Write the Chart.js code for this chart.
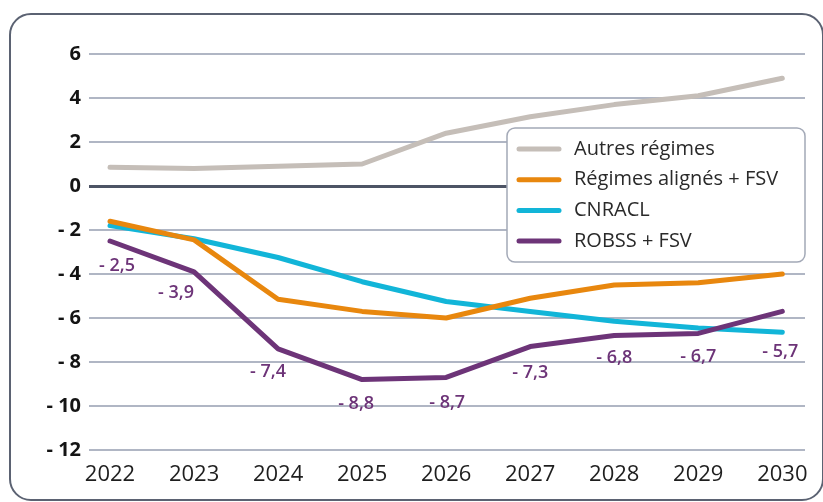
<!DOCTYPE html>
<html>
<head>
<meta charset="utf-8">
<script src="https://cdn.jsdelivr.net/npm/chart.js@4.4.1/dist/chart.umd.min.js"></script>
<style>
  html, body { margin: 0; padding: 0; background: #fff; }
  #wrap { position: relative; width: 823px; height: 502px; overflow: hidden; }
  #frame {
    position: absolute; left: 9px; top: 13px; width: 811px; height: 484px;
    border: 2px solid #5b6272; border-radius: 22px; pointer-events: none;
  }
  canvas { position: absolute; left: 0; top: 0; }
</style>
</head>
<body>
<div id="wrap">
  <canvas id="chart" width="823" height="502"></canvas>
  <div id="frame"></div>
</div>
<script>
  // Years on the x axis
  const years = [2022, 2023, 2024, 2025, 2026, 2027, 2028, 2029, 2030];

  // Series values
  const autresRegimes = [0.85, 0.8, 0.9, 1.0, 2.4, 3.15, 3.7, 4.1, 4.9];
  const regimesAlignes = [-1.6, -2.45, -5.15, -5.7, -6.0, -5.1, -4.5, -4.4, -4.0];
  const cnracl = [-1.8, -2.4, -3.25, -4.35, -5.25, -5.7, -6.15, -6.45, -6.65];
  const robss = [-2.5, -3.9, -7.4, -8.8, -8.7, -7.3, -6.8, -6.7, -5.7];

  const yTicks = [6, 4, 2, 0, -2, -4, -6, -8, -10, -12];

  const COLORS = {
    autres: '#c5beb8',
    alignes: '#e8870e',
    cnracl: '#12b5d8',
    robss: '#6d3478'
  };

  // where each purple value label sits relative to its point (px)
  const labelOffsets = [[7, 25], [-18, 21], [-10, 23], [-6, 24], [1, 25], [0, 26], [0, 22], [0, 23], [-2, 40]];

  const fmt = (v) => (v < 0 ? '- ' + Math.abs(v) : String(v)).replace('.', ',');

  const series = (label, data, color, order) => ({
    label,
    data: years.map((x, i) => ({ x, y: data[i] })),
    borderColor: color,
    backgroundColor: color,
    borderWidth: 5,
    pointRadius: 0,
    tension: 0,
    borderCapStyle: 'round',
    borderJoinStyle: 'round',
    fill: false,
    order
  });

  const datasets = [
    series('Autres régimes', autresRegimes, COLORS.autres, 4),
    series('Régimes alignés + FSV', regimesAlignes, COLORS.alignes, 2),
    series('CNRACL', cnracl, COLORS.cnracl, 3),
    series('ROBSS + FSV', robss, COLORS.robss, 1)
  ];

  const valueLabels = {
    id: 'valueLabels',
    afterDatasetsDraw(chart) {
      const { ctx } = chart;
      const meta = chart.getDatasetMeta(3);
      ctx.save();
      ctx.font = '600 18px "Open Sans"';
      ctx.fillStyle = COLORS.robss;
      ctx.textAlign = 'center';
      ctx.textBaseline = 'middle';
      meta.data.forEach((pt, i) => {
        const [dx, dy] = labelOffsets[i];
        ctx.fillText(fmt(robss[i]), pt.x + dx, pt.y + dy);
      });
      ctx.restore();
    }
  };

  const boxLegend = {
    id: 'boxLegend',
    afterDraw(chart) {
      const { ctx } = chart;
      const x = 507, y = 128, w = 298, h = 134;
      ctx.save();
      ctx.beginPath();
      ctx.roundRect(x, y, w, h, 8);
      ctx.fillStyle = '#fff';
      ctx.fill();
      ctx.lineWidth = 1.5;
      ctx.strokeStyle = '#a3a9b7';
      ctx.stroke();
      ctx.font = '20px "Open Sans"';
      ctx.textBaseline = 'middle';
      ctx.lineCap = 'round';
      datasets.forEach((ds, i) => {
        const cy = y + 21 + i * 30.7;
        ctx.beginPath();
        ctx.moveTo(x + 12, cy);
        ctx.lineTo(x + 52, cy);
        ctx.lineWidth = 5;
        ctx.strokeStyle = ds.borderColor;
        ctx.stroke();
        ctx.fillStyle = '#2a2a2a';
        ctx.fillText(ds.label, x + 67, cy);
      });
      ctx.restore();
    }
  };

  new Chart(document.getElementById('chart'), {
    type: 'line',
    data: { datasets },
    plugins: [valueLabels, boxLegend],
    options: {
      responsive: false,
      animation: false,
      devicePixelRatio: 1,
      layout: { padding: { left: 0, right: 18, top: 54, bottom: 0 } },
      plugins: {
        legend: { display: false },
        tooltip: { enabled: false }
      },
      scales: {
        x: {
          type: 'linear',
          min: 2021.75,
          max: 2030.27,
          afterBuildTicks: (scale) => { scale.ticks = years.map(v => ({ value: v })); },
          afterFit: (scale) => { scale.height = 52; },
          grid: { display: false, drawTicks: false },
          border: { display: false },
          ticks: {
            padding: 12,
            color: '#1e1e1e',
            font: { family: 'Open Sans', size: 22 },
            callback: (v) => String(v),
            maxRotation: 0,
            autoSkip: false
          }
        },
        y: {
          min: -12,
          max: 6,
          afterBuildTicks: (scale) => { scale.ticks = yTicks.map(v => ({ value: v })); },
          afterFit: (scale) => { scale.width = 89; },
          border: { display: false },
          grid: {
            drawTicks: false,
            color: (c) => (c.tick && c.tick.value === 0 ? '#4d5465' : '#b0b6c4'),
            lineWidth: (c) => (c.tick && c.tick.value === 0 ? 3 : 2)
          },
          ticks: {
            padding: 8,
            color: '#141414',
            font: { family: 'Open Sans', size: 20, weight: '700' },
            callback: (v) => fmt(v)
          }
        }
      }
    }
  });
</script>
</body>
</html>
